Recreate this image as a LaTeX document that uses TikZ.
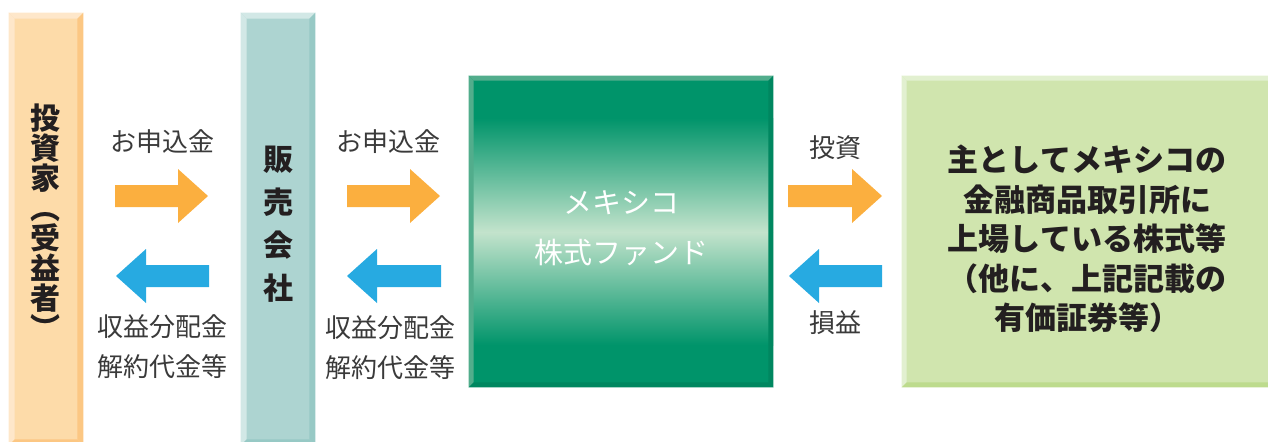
\documentclass[tikz,border=0pt]{standalone}
\usepackage{fontspec}
\setmainfont{Noto Sans CJK JP}
\usetikzlibrary{positioning,calc}

\definecolor{invfill}{HTML}{FDDBA9}
\definecolor{invlight}{HTML}{FEE7CA}
\definecolor{invdark}{HTML}{FCC783}
\definecolor{selfill}{HTML}{ADD4D1}
\definecolor{sellight}{HTML}{D2E8E6}
\definecolor{seldark}{HTML}{97C9C5}
\definecolor{fundgreen}{HTML}{00946A}
\definecolor{fundlight}{HTML}{C3E3CC}
\definecolor{fundedge}{HTML}{52AD8C}
\definecolor{funddark}{HTML}{008760}
\definecolor{mktfill}{HTML}{D0E5AE}
\definecolor{mktlight}{HTML}{E2F0D0}
\definecolor{mktdark}{HTML}{BDDB8D}
\definecolor{arrorange}{HTML}{FBAF3F}
\definecolor{arrblue}{HTML}{27AAE1}
\definecolor{txtgray}{HTML}{3A3A3A}
\definecolor{txtdark}{HTML}{231F20}

% bevel of a box: node, light side, dark side, width
\newcommand{\bevel}[4]{%
  \fill[#2] (#1.north west) -- (#1.north east) -- ([shift={(-#4,#4)}]#1.north east) -- ([shift={(#4,#4)}]#1.north west) -- cycle;
  \fill[#2] (#1.north west) -- ([shift={(#4,#4)}]#1.north west) -- ([shift={(#4,-#4)}]#1.south west) -- (#1.south west) -- cycle;
  \fill[#3] (#1.north east) -- (#1.south east) -- ([shift={(-#4,-#4)}]#1.south east) -- ([shift={(-#4,#4)}]#1.north east) -- cycle;
  \fill[#3] (#1.south west) -- (#1.south east) -- ([shift={(-#4,-#4)}]#1.south east) -- ([shift={(#4,-#4)}]#1.south west) -- cycle;
}
% block arrows: from, to, y, colour
\newcommand{\rarr}[4]{%
  \fill[#4] (#1,#3-11) -- (#2-30,#3-11) -- (#2-30,#3-27) -- (#2,#3) -- (#2-30,#3+27) -- (#2-30,#3+11) -- (#1,#3+11) -- cycle;
}
\newcommand{\larr}[4]{%
  \fill[#4] (#2,#3-11) -- (#1+30,#3-11) -- (#1+30,#3-27) -- (#1,#3) -- (#1+30,#3+27) -- (#1+30,#3+11) -- (#2,#3+11) -- cycle;
}

\begin{document}
\begin{tikzpicture}[
  x=0.5pt, y=-0.5pt,
  column/.style={rectangle, inner sep=0pt, minimum width=37pt, minimum height=216pt},
  bigbox/.style={rectangle, inner sep=0pt, minimum height=155.5pt},
  lbl/.style={font=\fontsize{13}{20}\selectfont, text=txtgray, align=center, inner sep=0pt},
  vtxt/.style={font=\fontsize{15}{15}\selectfont\bfseries, text=txtdark, align=center, inner sep=0pt}
]
\useasboundingbox (0,0) rectangle (1268,441);
\clip (0,0) rectangle (1268,441);

\node[column, fill=invfill] (inv) at (46,229) {};
\bevel{inv}{invlight}{invdark}{6}
\node[column, fill=selfill] (sel) at (278,229) {};
\bevel{sel}{sellight}{seldark}{6}

\node[bigbox, minimum width=152pt, fill=fundgreen] (fund) at (621,231.5) {};
\shade[top color=fundgreen, bottom color=fundlight] (469,118) rectangle (773,232);
\shade[top color=fundlight, bottom color=fundgreen] (469,232) rectangle (773,345);
\bevel{fund}{fundedge}{funddark}{5}

\node[bigbox, minimum width=186.5pt, fill=mktfill] (mkt) at (1088.5,231.5) {};
\bevel{mkt}{mktlight}{mktdark}{5}

\node[vtxt] (invtxt) at (46,222) {投\\資\\家\\︵\\受\\益\\者\\︶};
\node[vtxt, font=\fontsize{15}{21.5}\selectfont\bfseries] (seltxt) at (278,224) {販\\売\\会\\社};
\node[font=\fontsize{14.5}{25}\selectfont, text=white, align=center, inner sep=0pt] (fundtxt) at (621,228) {メキシコ\\株式ファンド};
\node[vtxt, font=\fontsize{15.5}{19.75}\selectfont\bfseries] (mkttxt) at (1087,239) {主としてメキシコの\\金融商品取引所に\\上場している株式等\\（他に、上記記載の\\有価証券等）};

\rarr{115}{208}{196}{arrorange}
\larr{116}{209}{276}{arrblue}
\rarr{347}{440}{196}{arrorange}
\larr{347}{441}{276}{arrblue}
\rarr{788}{882}{196}{arrorange}
\larr{789}{882}{276}{arrblue}

\node[lbl] (pay1) at (162,142) {お申込金};
\node[lbl] (ret1) at (162,347) {収益分配金\\解約代金等};
\node[lbl] (pay2) at (388,142) {お申込金};
\node[lbl] (ret2) at (390,348) {収益分配金\\解約代金等};
\node[lbl] (inv3) at (835,148) {投資};
\node[lbl] (ret3) at (835,323) {損益};

\end{tikzpicture}
\end{document}
